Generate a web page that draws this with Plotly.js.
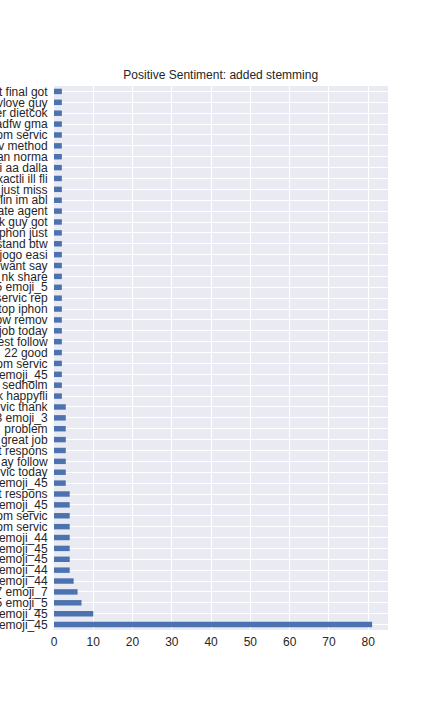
<!DOCTYPE html>
<html>
<head>
<meta charset="utf-8">
<script src="https://cdn.plot.ly/plotly-3.0.1.min.js"></script>
<style>html,body{margin:0;padding:0;background:#fff;}#chart{width:432px;height:720px;}</style>
</head>
<body>
<div id="chart"></div>
<script>
// Labels as visible in the reference (cut off at the left edge), top to bottom
const labels = [
  "t final got", "vlove guy", "er dietcok", "adfw gma", "om servic",
  "v method", "an norma", "i aa dalla", "xactli ill fli", "just miss",
  "flin im abl", "ate agent", "k guy got", "phon just", "stand btw",
  "jogo easi", "want say", "nk share", "5 emoji_5", "servic rep",
  "top iphon", "ow remov", "job today", "est follow", "22 good",
  "om servic", "emoji_45", "sedholm", "k happyfli", "vic thank",
  "3 emoji_3", "problem", "great job", "t respons", "ay follow",
  "vic today", "emoji_45", "t respons", "emoji_45", "om servic",
  "om servic", "emoji_44", "emoji_45", "emoji_45", "emoji_44",
  "emoji_44", "7 emoji_7", "5 emoji_5", "emoji_45", "emoji_45"
];
const counts = [
  2, 2, 2, 2, 2,
  2, 2, 2, 2, 2,
  2, 2, 2, 2, 2,
  2, 2, 2, 2, 2,
  2, 2, 2, 2, 2,
  2, 2, 2, 2, 3,
  3, 3, 3, 3, 3,
  3, 3, 4, 4, 4,
  4, 4, 4, 4, 4,
  5, 6, 7, 10, 81
];
const xTicks = [0, 10, 20, 30, 40, 50, 60, 70, 80];
const titleText = "Positive Sentiment: added stemming";

const positions = labels.map((_, i) => i);

const trace = {
  type: "bar",
  orientation: "h",
  x: counts,
  y: positions,
  width: 0.5,
  marker: {color: "#4C72B0", line: {width: 0}},
  hoverinfo: "x+text",
  text: labels,
  textposition: "none"
};

const layout = {
  width: 432,
  height: 720,
  margin: {l: 54, r: 44, t: 86, b: 90, pad: 0},
  paper_bgcolor: "#ffffff",
  plot_bgcolor: "#EAEAF2",
  showlegend: false,
  title: {
    text: titleText,
    font: {family: "Liberation Sans, Arial, sans-serif", size: 12, color: "#262626"},
    x: 0.511, xanchor: "center",
    y: 1 - 75 / 720, yanchor: "middle"
  },
  font: {family: "Liberation Sans, Arial, sans-serif", size: 12, color: "#262626"},
  xaxis: {
    range: [0, 85.05],
    tickvals: xTicks,
    ticktext: xTicks.map(String),
    showgrid: true,
    gridcolor: "#ffffff",
    gridwidth: 1,
    zeroline: false,
    showline: false,
    ticks: "outside",
    ticklen: 1,
    tickcolor: "rgba(0,0,0,0)",
    tickfont: {size: 12, color: "#262626"},
    automargin: false,
    fixedrange: true
  },
  yaxis: {
    range: [49.5, -0.5],
    tickvals: positions,
    ticktext: labels,
    showgrid: true,
    gridcolor: "#ffffff",
    gridwidth: 1,
    zeroline: false,
    showline: false,
    ticks: "outside",
    ticklen: 3,
    tickcolor: "rgba(0,0,0,0)",
    tickfont: {size: 12, color: "#262626"},
    automargin: false,
    fixedrange: true
  },
  bargap: 0.5
};

Plotly.newPlot("chart", [trace], layout, {displayModeBar: false, staticPlot: true});
</script>
</body>
</html>
